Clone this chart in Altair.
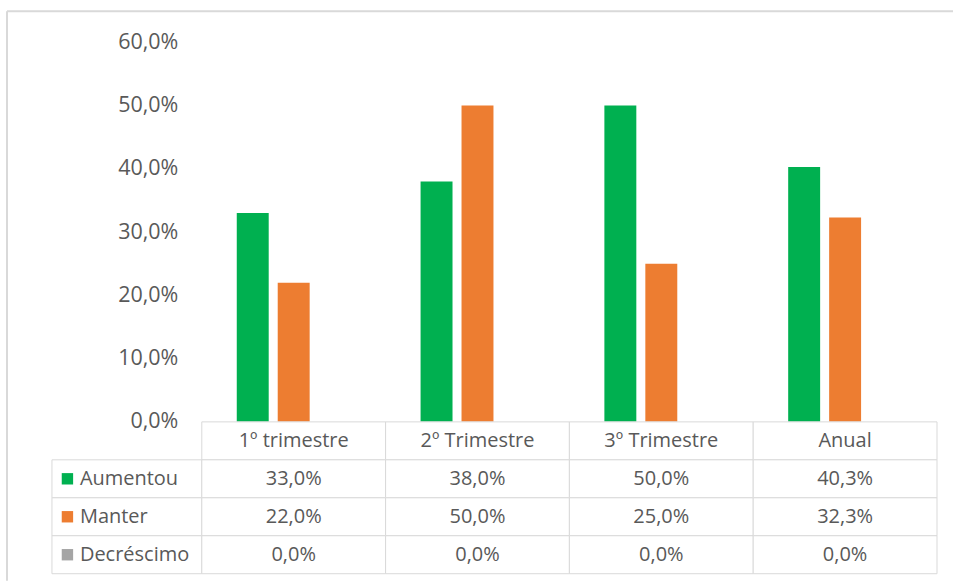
import altair as alt
import pandas as pd

# Periods and series
periodos = ["1º trimestre", "2º Trimestre", "3º Trimestre", "Anual"]
series = ["Aumentou", "Manter", "Decréscimo"]
aumentou = [0.330, 0.380, 0.500, 0.403]
manter = [0.220, 0.500, 0.250, 0.323]
decrescimo = [0.000, 0.000, 0.000, 0.000]
cores = ["#00B050", "#ED7D31", "#A5A5A5"]
y_ticks = [0.0, 0.1, 0.2, 0.3, 0.4, 0.5, 0.6]

FONT = "Open Sans"
TXT = "#595959"
LINE = "#D9D9D9"

valores = {"Aumentou": aumentou, "Manter": manter, "Decréscimo": decrescimo}
rows = []
for s in series:
    for p, v in zip(periodos, valores[s]):
        rows.append({"periodo": p, "serie": s, "valor": v})
df = pd.DataFrame(rows)


def pct(v):
    return f"{v * 100:.1f}%".replace(".", ",")


# table rows: header row with period names, then one row per series
HEADER = "Período"
linhas = [HEADER] + series
cells = [{"periodo": p, "linha": HEADER, "texto": p} for p in periodos]
cells += [{"periodo": r["periodo"], "linha": r["serie"], "texto": pct(r["valor"])} for r in rows]
cells_df = pd.DataFrame(cells)
legend_df = pd.DataFrame({"linha": series, "serie": series})

W, H = 736, 380
LEFT_W, TABLE_H = 150, 152

x_scale = alt.Scale(domain=periodos, paddingInner=0, paddingOuter=0)
row_scale = alt.Scale(domain=linhas, paddingInner=0, paddingOuter=0)
color_scale = alt.Scale(domain=series, range=cores)

bars = alt.Chart(df).mark_bar().encode(
    x=alt.X("periodo:N", sort=periodos, scale=x_scale, axis=None),
    xOffset=alt.XOffset(
        "serie:N", sort=series,
        scale=alt.Scale(domain=series, paddingInner=0.22, paddingOuter=0.854),
    ),
    y=alt.Y(
        "valor:Q",
        scale=alt.Scale(domain=[0, 0.6], nice=False),
        axis=alt.Axis(
            values=y_ticks, title=None, domain=False, ticks=False, grid=False,
            labelExpr="replace(format(datum.value, '.1%'), '.', ',')",
            labelFont=FONT, labelFontSize=21.5, labelColor=TXT, labelPadding=24,
        ),
    ),
    color=alt.Color("serie:N", scale=color_scale, legend=None),
).properties(width=W, height=H)

# empty top-left cell that also carries the outer frame of the figure
frame_src = alt.Chart(pd.DataFrame({"k": [0]}))
frame = alt.layer(
    frame_src.mark_rule(color=LINE, strokeWidth=2).encode(
        x=alt.value(-45), y=alt.value(-31), y2=alt.value(539)
    ),
    frame_src.mark_rule(color=LINE, strokeWidth=2).encode(
        x=alt.value(-45), x2=alt.value(902), y=alt.value(-31)
    ),
).properties(width=LEFT_W, height=H)

legend_base = alt.Chart(legend_df)
legend_col = alt.layer(
    legend_base.mark_rect(fill="white", stroke=LINE, strokeWidth=1).encode(
        y=alt.Y("linha:N", scale=row_scale, axis=None),
        x=alt.value(0), x2=alt.value(LEFT_W),
    ),
    legend_base.mark_square(size=130, opacity=1).encode(
        y=alt.Y("linha:N", scale=row_scale, axis=None),
        x=alt.value(15.5),
        color=alt.Color("serie:N", scale=color_scale, legend=None),
    ),
    legend_base.mark_text(align="left", baseline="middle", font=FONT, fontSize=20, color=TXT).encode(
        y=alt.Y("linha:N", scale=row_scale, axis=None),
        x=alt.value(28),
        text="serie:N",
    ),
).properties(width=LEFT_W, height=TABLE_H)

table_base = alt.Chart(cells_df)
table = alt.layer(
    table_base.mark_rect(fill="white", stroke=LINE, strokeWidth=1).encode(
        x=alt.X("periodo:N", sort=periodos, scale=x_scale, axis=None),
        y=alt.Y("linha:N", scale=row_scale, axis=None),
    ),
    table_base.mark_text(align="center", baseline="middle", font=FONT, fontSize=20, color=TXT).encode(
        x=alt.X("periodo:N", sort=periodos, scale=x_scale, axis=None),
        y=alt.Y("linha:N", scale=row_scale, axis=None),
        text="texto:N",
    ),
).properties(width=W, height=TABLE_H)

chart = alt.concat(
    frame, bars, legend_col, table, columns=2, spacing=0, bounds="flush"
).properties(
    padding={"left": 6, "top": 10, "right": 0, "bottom": 0},
    background="white",
).configure_view(stroke=None)

chart.save("out.html", embed_options={"renderer": "svg", "actions": False})
